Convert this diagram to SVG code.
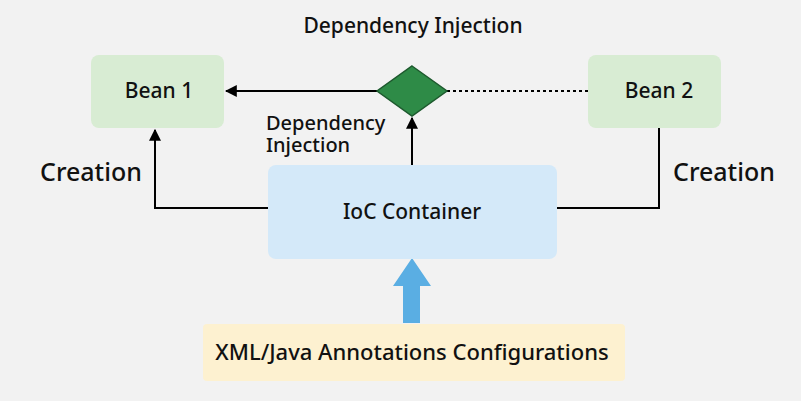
<svg xmlns="http://www.w3.org/2000/svg" width="801" height="401" viewBox="0 0 801 401">
<defs>
<style>
text{font-family:"Noto Sans","Open Sans",sans-serif;fill:#111;font-weight:500}
.c{stroke:#000;stroke-width:2;fill:none}
</style>
<marker id="ah" viewBox="0 0 10 10" refX="9" refY="5" markerWidth="6" markerHeight="6" orient="auto"><path d="M0,0L10,5L0,10z" fill="#000"/></marker>
</defs>
<rect width="801" height="401" fill="#f2f2f2"/>
<text x="413" y="33" font-size="21" text-anchor="middle">Dependency Injection</text>
<g id="connectors">
<path class="c" d="M377,91H226" marker-end="url(#ah)"/>
<path class="c" d="M447,91H588" stroke-dasharray="3,3"/>
<path class="c" d="M412,165V118" marker-end="url(#ah)"/>
<path class="c" d="M268,208H155V130" marker-end="url(#ah)"/>
<path class="c" d="M557,208H659V128"/>
<path d="M403,323V286H393L412,258L431,286H420V323z" fill="#5aaee3"/>
</g>
<g id="bean1"><rect x="91" y="55" width="133" height="73" rx="8" fill="#d8ecd3"/><text x="159" y="98" font-size="21" text-anchor="middle">Bean 1</text></g>
<g id="bean2"><rect x="588" y="55" width="133" height="73" rx="8" fill="#d8ecd3"/><text x="659" y="98" font-size="21" text-anchor="middle">Bean 2</text></g>
<g id="diamond"><path d="M412,66L447,91L412,116L377,91z" fill="#2e8b47" stroke="#1d5a2e" stroke-width="1.5"/></g>
<text x="266" y="130" font-size="20">Dependency<tspan x="266" dy="22">Injection</tspan></text>
<text x="40" y="181" font-size="25">Creation</text>
<text x="673" y="181" font-size="25">Creation</text>
<g id="ioc"><rect x="268" y="165" width="289" height="94" rx="8" fill="#d4e9f9"/><text x="412" y="219" font-size="21" text-anchor="middle">IoC Container</text></g>
<g id="xml"><rect x="203" y="324" width="422" height="57" rx="4" fill="#fdf1d0"/><text x="412" y="360" font-size="22" text-anchor="middle">XML/Java Annotations Configurations</text></g>
</svg>
